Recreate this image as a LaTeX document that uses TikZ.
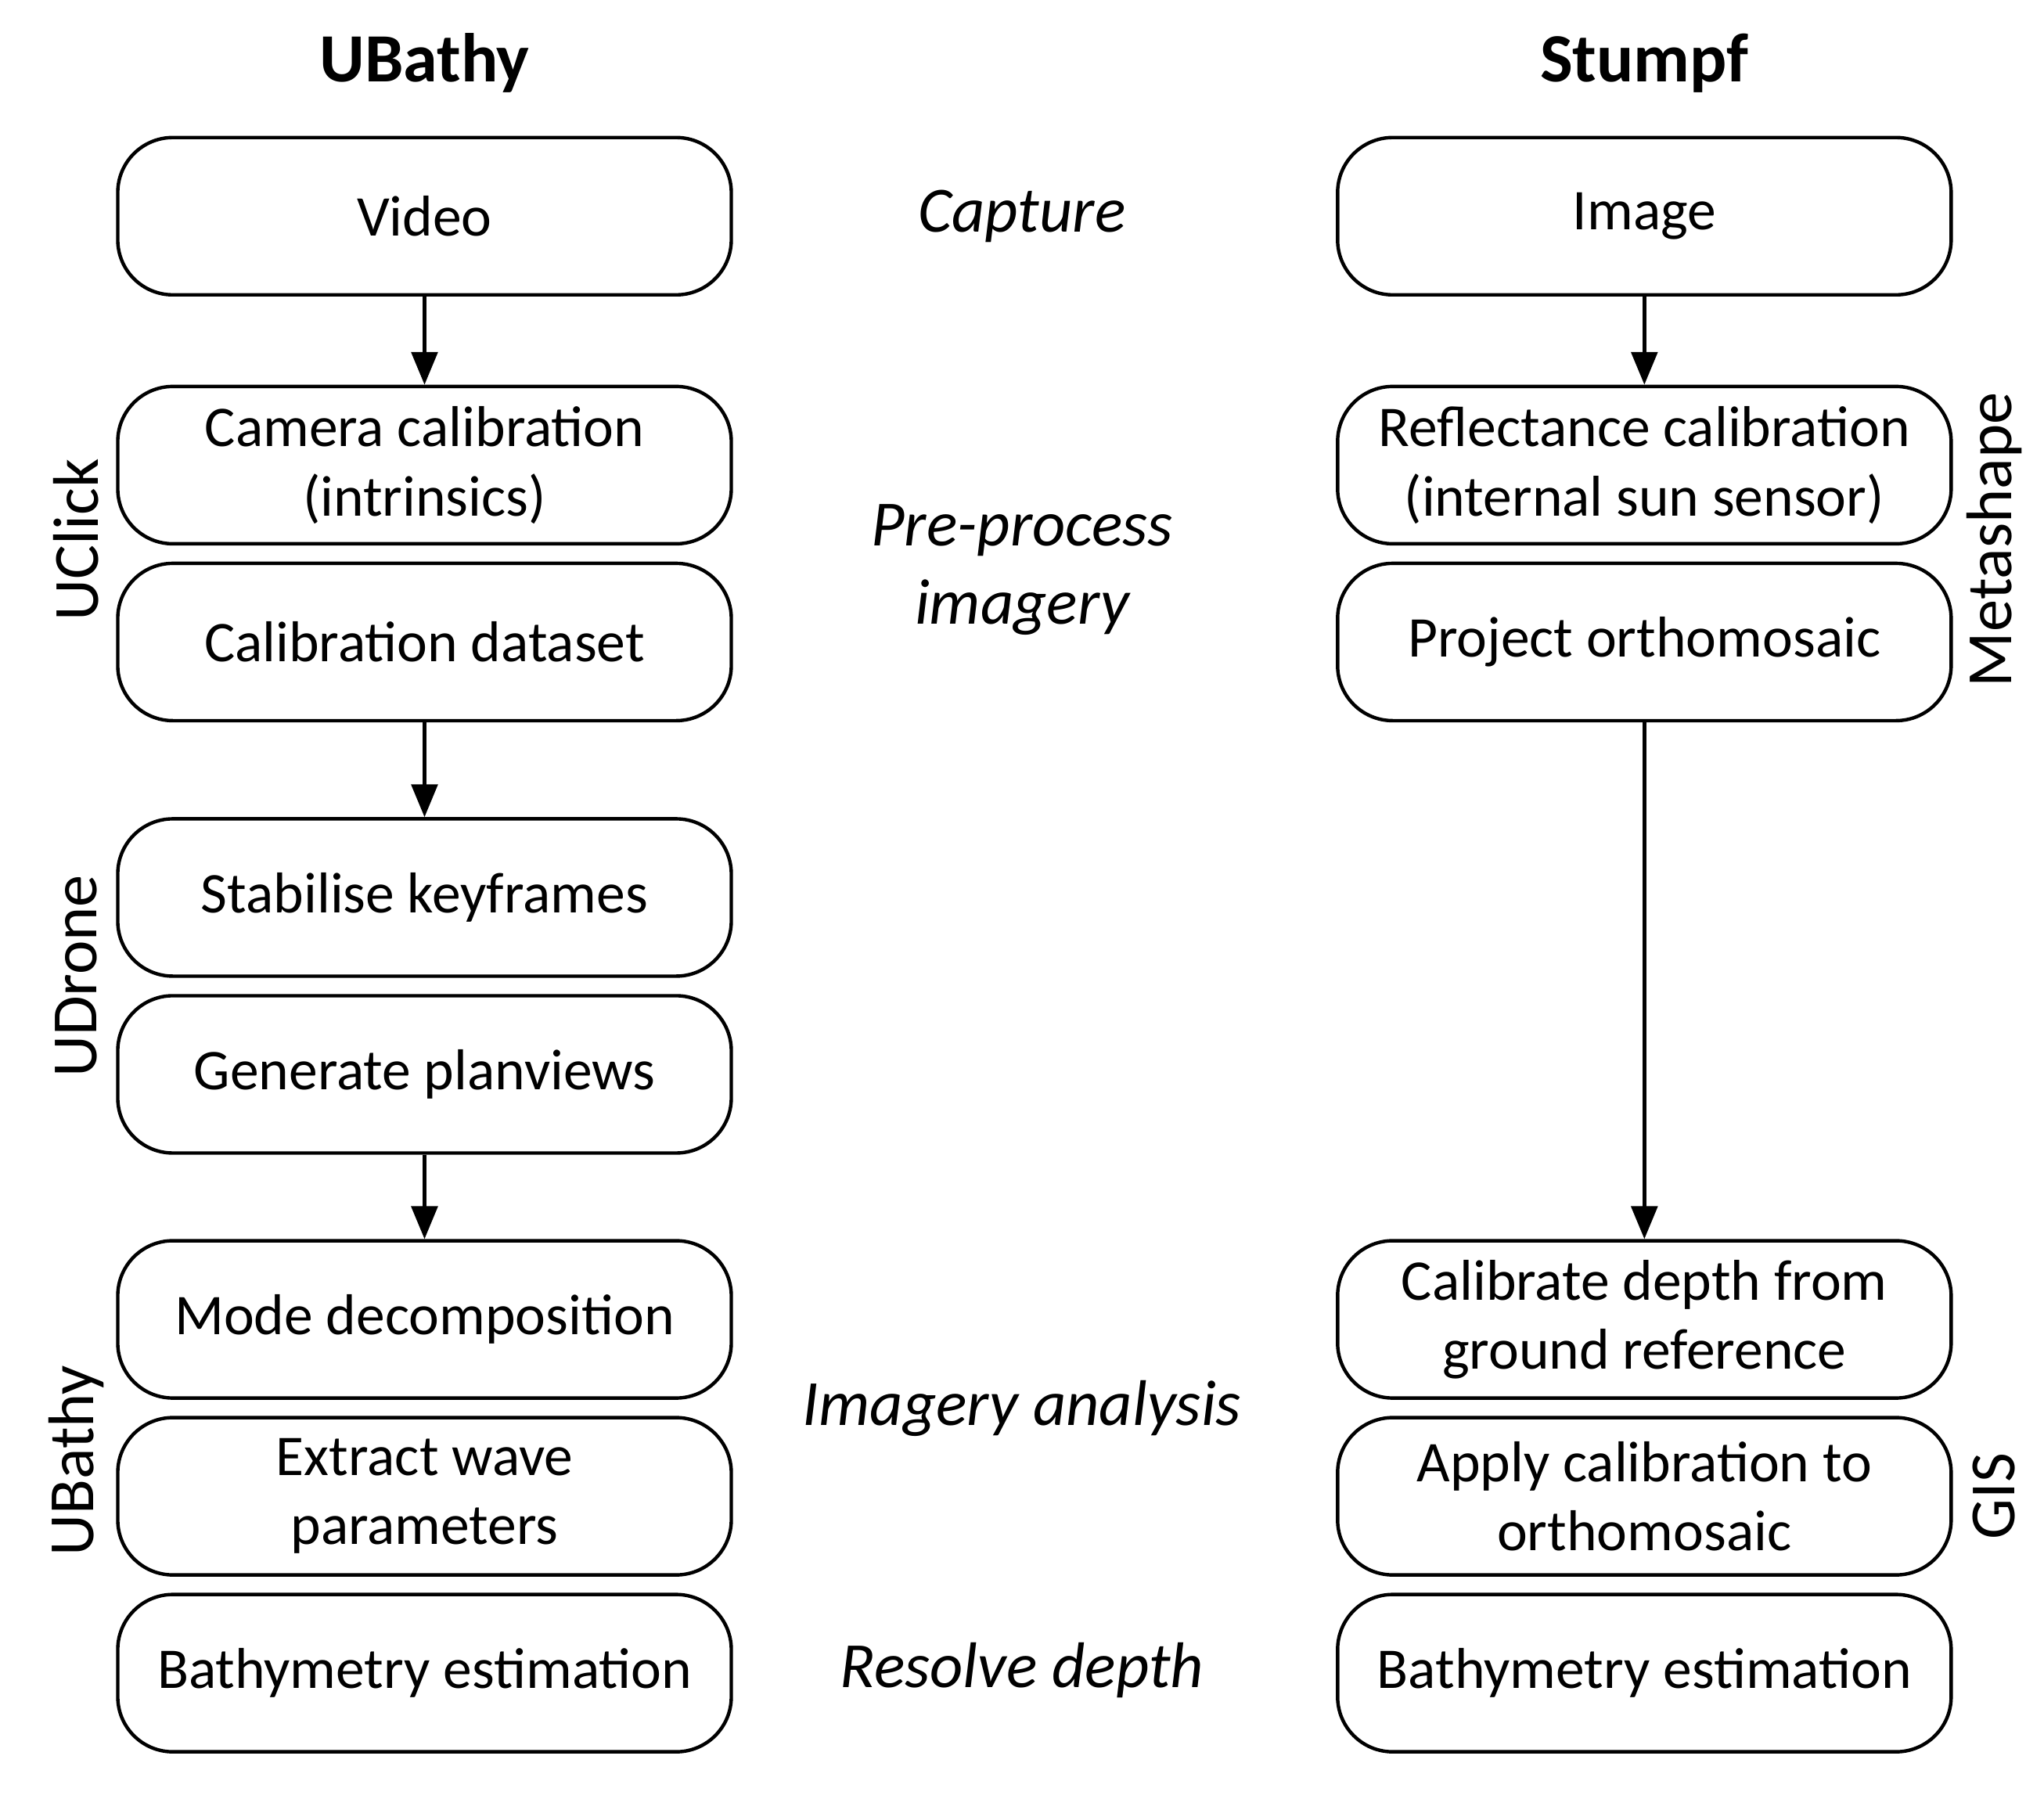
\documentclass[tikz,border=0pt]{standalone}
\usepackage{fontspec}
\setmainfont{Carlito}
\usetikzlibrary{arrows.meta,positioning}
\tikzset{
  proc/.style={draw, line width=0.75pt, rounded corners=0.42cm, minimum width=4.68cm,
    minimum height=1.2cm, align=center, font=\fontsize{12.5}{15}\selectfont},
  stage/.style={align=center, font=\fontsize{14}{17}\selectfont\itshape},
  tool/.style={rotate=90, font=\fontsize{14}{17}\selectfont},
  head/.style={font=\fontsize{15}{18}\selectfont\bfseries},
  flow/.style={line width=0.75pt, -{Triangle[length=0.25cm,width=0.2cm]}}
}
\begin{document}
\begin{tikzpicture}[x=0.01cm, y=-0.01cm]
\useasboundingbox (0,0) rectangle (1560,1373);
% column titles
\node[head] (tl) at (324,48) {UBathy};
\node[head] (tr) at (1255,48) {Stumpf};
% UBathy column
\node[proc] (video) at (324,165) {Video};
\node[proc] (camcal) at (324,355) {Camera calibration\\(intrinsics)};
\node[proc] (caldata) at (324,490) {Calibration dataset};
\node[proc] (stab) at (324,685) {Stabilise keyframes};
\node[proc] (plan) at (324,820) {Generate planviews};
\node[proc] (mode) at (324,1007) {Mode decomposition};
\node[proc] (wave) at (324,1142) {Extract wave\\parameters};
\node[proc] (bathyl) at (324,1277) {Bathymetry estimation};
% Stumpf column
\node[proc] (image) at (1255,165) {Image};
\node[proc] (refl) at (1255,355) {Reflectance calibration\\(internal sun sensor)};
\node[proc] (ortho) at (1255,490) {Project orthomosaic};
\node[proc] (depth) at (1255,1007) {Calibrate depth from\\ground reference};
\node[proc] (apply) at (1255,1142) {Apply calibration to\\orthomosaic};
\node[proc] (bathyr) at (1255,1277) {Bathymetry estimation};
% stages
\node[stage] (capture) at (780,165) {Capture};
\node[stage] (pre) at (780,435) {Pre-process\\imagery};
\node[stage] (anal) at (780,1075) {Imagery analysis};
\node[stage] (resolve) at (780,1275) {Resolve depth};
% tools
\node[tool] (uclick) at (58,412) {UClick};
\node[tool] (udrone) at (58,745) {UDrone};
\node[tool] (ubathy) at (58,1115) {UBathy};
\node[tool] (meta) at (1522,412) {Metashape};
\node[tool] (gis) at (1522,1142) {GIS};
% arrows
\draw[flow] (video) -- (camcal);
\draw[flow] (caldata) -- (stab);
\draw[flow] (plan) -- (mode);
\draw[flow] (image) -- (refl);
\draw[flow] (ortho) -- (depth);
\end{tikzpicture}
\end{document}
